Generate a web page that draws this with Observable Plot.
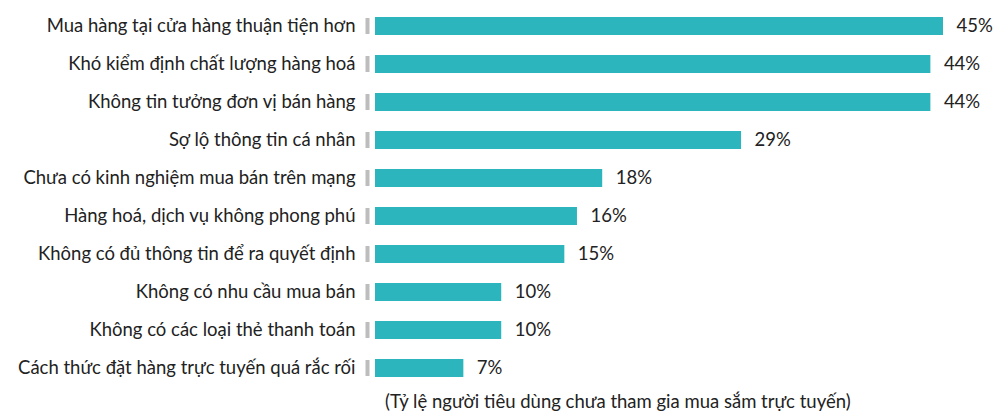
<!DOCTYPE html>
<html>
<head>
<meta charset="utf-8">
<script src="https://cdn.jsdelivr.net/npm/d3@7"></script>
<script src="https://cdn.jsdelivr.net/npm/@observablehq/plot@0.6"></script>
<style>
  html, body { margin: 0; padding: 0; background: #fff; }
  #chart { width: 1000px; }
  .caption { font-family: Lato, "Noto Sans", sans-serif; font-size: 18.5px; color: #222; margin-left: 385px; margin-top: 1px; line-height: 24px; }
</style>
</head>
<body>
<div id="chart"></div>
<script>
const categories = [
  "Mua hàng tại cửa hàng thuận tiện hơn",
  "Khó kiểm định chất lượng hàng hoá",
  "Không tin tưởng đơn vị bán hàng",
  "Sợ lộ thông tin cá nhân",
  "Chưa có kinh nghiệm mua bán trên mạng",
  "Hàng hoá, dịch vụ không phong phú",
  "Không có đủ thông tin để ra quyết định",
  "Không có nhu cầu mua bán",
  "Không có các loại thẻ thanh toán",
  "Cách thức đặt hàng trực tuyến quá rắc rối"
];
const values = [45, 44, 44, 29, 18, 16, 15, 10, 10, 7];
const captionText = "(Tỷ lệ người tiêu dùng chưa tham gia mua sắm trực tuyến)";

const data = categories.map((c, i) => ({label: c, value: values[i]}));

const chart = Plot.plot({
  width: 1000,
  height: 388,
  marginLeft: 375,
  marginRight: 57,
  marginTop: 6,
  marginBottom: 0,
  style: {fontFamily: "Lato, 'Noto Sans', sans-serif", fontSize: "18.5px", color: "#222", background: "#fff"},
  x: {domain: [0, 45], axis: null},
  y: {domain: categories, padding: 0, label: null},
  marks: [
    Plot.axisY({tickSize: 0, tickPadding: 20, fontSize: 18.5, label: null, fill: "#222"}),
    Plot.tickX(data, {x: () => 0, y: "label", dx: -8, stroke: "#bdbdbd", strokeWidth: 4, insetTop: 11, insetBottom: 11}),
    Plot.barX(data, {x: "value", y: "label", fill: "#2cb5bc", insetTop: 10, insetBottom: 10}),
    Plot.text(data, {x: "value", y: "label", text: d => d.value + "%", dx: 13, textAnchor: "start", fontSize: 18.5, fill: "#222"})
  ]
});
document.getElementById("chart").appendChild(chart);
const cap = document.createElement("div");
cap.className = "caption";
cap.textContent = captionText;
document.getElementById("chart").appendChild(cap);
</script>
</body>
</html>
